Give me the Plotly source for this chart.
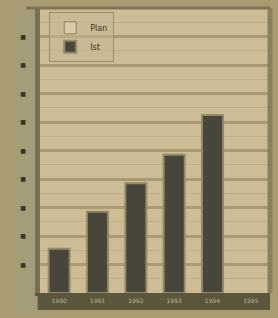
import plotly.graph_objects as go

categories = ["1990", "1991", "1992", "1993", "1994", "1995"]
series_dark = [1.55, 2.85, 3.85, 4.85, 6.25, None]
series_light = [None, None, None, None, None, None]
y_ticks = [0, 1, 2, 3, 4, 5, 6, 7, 8, 9, 10]
y_tick_labels = ["", "■", "■", "■", "■", "■", "■", "■", "■", "■", ""]

fig = go.Figure()
fig.add_trace(go.Bar(x=categories, y=series_light, name="Plan",
                     marker=dict(color="#d8ccaa", line=dict(color="#8a7d58", width=1))))
fig.add_trace(go.Bar(x=categories, y=series_dark, name="Ist",
                     marker=dict(color="#48463a", line=dict(color="#948a6a", width=2)),
                     width=0.55))

fig.update_layout(
    width=278, height=318,
    margin=dict(l=40, r=8, t=8, b=25),
    paper_bgcolor="#a99c72",
    plot_bgcolor="#cdbd97",
    barmode="overlay",
    showlegend=True,
    legend=dict(x=0.04, y=0.985, xanchor="left", yanchor="top",
                bgcolor="rgba(196,184,146,0.6)", bordercolor="#9a8d66", borderwidth=1,
                font=dict(family="DejaVu Sans", size=8, color="#3a3424"),
                itemwidth=30, tracegroupgap=2),
    font=dict(family="DejaVu Sans", size=7, color="#3f3a28"),
    shapes=[
        dict(type="rect", xref="paper", yref="paper", x0=-0.01, x1=1.0, y0=-0.06, y1=0.0,
             fillcolor="#5c563d", line=dict(width=0), layer="below"),
        dict(type="rect", xref="paper", yref="paper", x0=-0.1, x1=-0.02, y0=-0.07, y1=1.0,
             fillcolor="#a59c7a", line=dict(width=0), layer="below"),
    ],
)
fig.update_xaxes(showline=True, linecolor="#5c563d", linewidth=3, mirror=False,
                 tickfont=dict(size=6, color="#b8b29a"), ticklen=0, showgrid=False)
fig.update_yaxes(range=[0, 10], tickvals=y_ticks, ticktext=y_tick_labels,
                 tickfont=dict(size=6, color="#3a3422"), ticklabelstandoff=8,
                 showline=True, linecolor="#7a7050", linewidth=5, mirror=False,
                 showgrid=True, gridcolor="#a99a6f", gridwidth=3,
                 minor=dict(dtick=0.5, showgrid=True, gridcolor="#bfae86", gridwidth=1),
                 zeroline=False)
fig.add_shape(type="line", xref="paper", yref="paper", x0=1.0, x1=1.0, y0=0, y1=1.0,
              line=dict(color="#8c805c", width=5))
fig.add_shape(type="line", xref="paper", yref="paper", x0=-0.06, x1=1.0, y0=1.0, y1=1.0,
              line=dict(color="#7e7352", width=3))

fig.write_html("out.html", config={"displayModeBar": False},
               post_script="document.body.style.margin='0';")
